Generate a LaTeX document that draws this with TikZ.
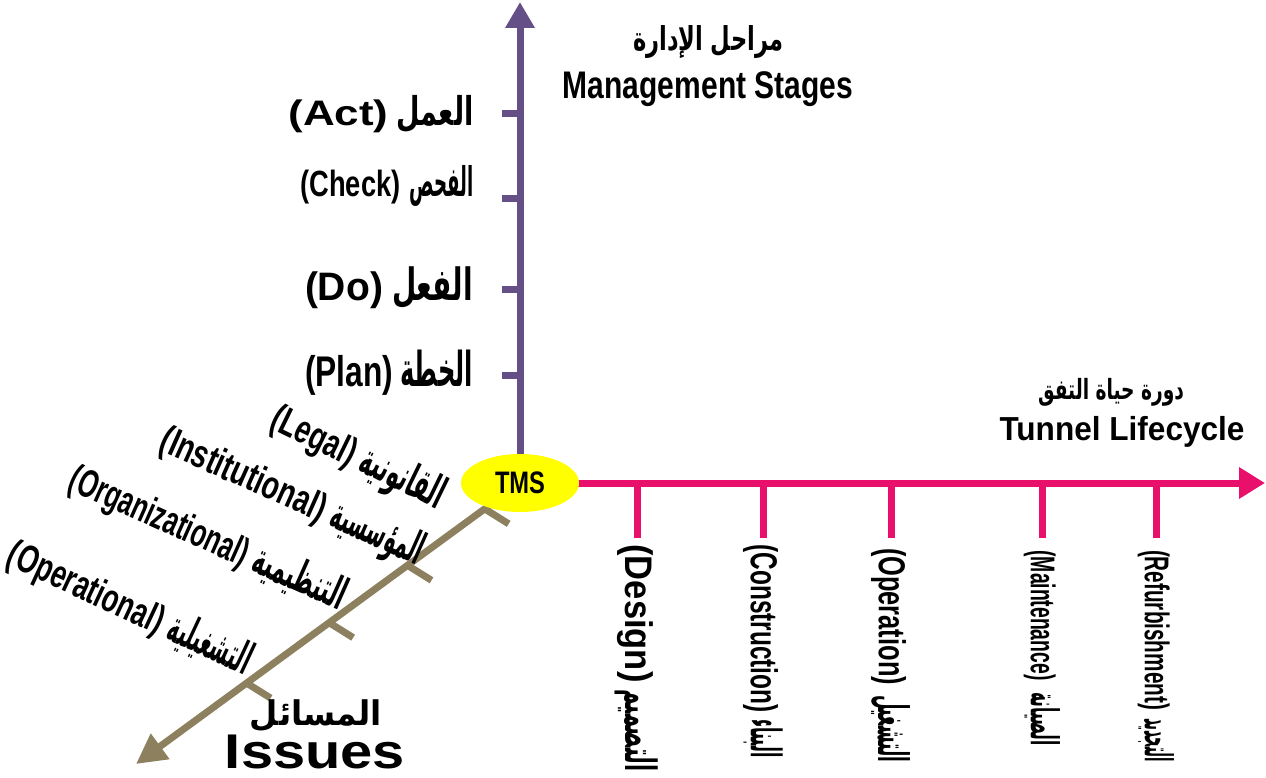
\documentclass[tikz,border=0pt]{standalone}
\usepackage{graphicx}
\usepackage{fontspec}
\setmainfont{Liberation Sans}
\newfontfamily\arfont[Script=Arabic]{DejaVu Sans}
\TeXXeTstate=1
\usetikzlibrary{arrows.meta,shapes.geometric,calc}

\definecolor{mgmt}{RGB}{100,80,135}
\definecolor{life}{RGB}{232,16,106}
\definecolor{issue}{RGB}{140,128,95}
\definecolor{hub}{RGB}{255,255,0}

% Latin and Arabic parts on one baseline, each squeezed to its own width.
% #1 Latin width, #2 Arabic width, #3 gap, #4 Latin height, #5 Latin, #6 Arabic word
\newsavebox\latbox
\newsavebox\arbox
\newcommand\bil[6]{%
  \sbox\latbox{\bfseries #5}%
  \sbox\arbox{\arfont\bfseries\beginR #6\endR}%
  \pgfmathsetmacro\vsc{#4/(\the\ht\latbox+\the\dp\latbox)}%
  \pgfmathsetmacro\hlat{#1/\the\wd\latbox}%
  \pgfmathsetmacro\har{#2/\the\wd\arbox}%
  \pgfmathsetmacro\var{1.12*\vsc}%
  \scalebox{\hlat}[\vsc]{\usebox\latbox}\hspace{#3pt}\scalebox{\har}[\var]{\usebox\arbox}}
\newcommand\fit[3]{\resizebox*{#1pt}{#2pt}{\bfseries #3}}
\newcommand\arfit[3]{\resizebox*{#1pt}{#2pt}{\arfont\bfseries #3}}

\tikzset{
  axisline/.style={line width=7pt},
  tick/.style={line width=7pt},
  lbl/.style={inner sep=0pt, outer sep=0pt, anchor=center},
}

\begin{document}
\begin{tikzpicture}[x=1pt,y=-1pt]
\useasboundingbox (0,0) rectangle (1266,778);

\coordinate (c) at (520,483);
\coordinate (mtip) at (520,2);
\coordinate (ltip) at (1265,483);
\coordinate (itip) at (136,764);

% axes
\draw[axisline, mgmt, -{Triangle[length=26pt,width=28pt]}] (c) -- (mtip);
\draw[axisline, life, -{Triangle[length=26pt,width=30pt]}] (c) -- (ltip);
\draw[axisline, issue, -{Triangle[length=30pt,width=30pt]}] (c) -- (itip);

% management ticks
\foreach \y in {114,199,289,375}
  \draw[tick, mgmt] (519,\y) -- ++(-17,0);
% lifecycle ticks
\foreach \x in {637,763,891,1042,1156}
  \draw[tick, life] (\x,483) -- ++(0,55);
% issue ticks
\foreach \t in {0.092,0.293,0.497,0.712}
  \draw[tick, issue] ($(c)!\t!(itip)$) -- ++(24,15);

% hub
\node[ellipse, fill=hub, minimum width=118pt, minimum height=58pt, inner sep=0pt] (tms) at (c)
  {\fit{50}{22}{TMS}};

% titles
\node[lbl] (mgar) at (708,42) {\arfit{150}{33}{\beginR مراحل الإدارة\endR}};
\node[lbl] (mgen) at (708,89) {\fit{290}{35}{Management Stages}};
\node[lbl] (lcar) at (1111,392) {\arfit{146}{28}{\beginR دورة حياة التفق\endR}};
\node[lbl] (lcen) at (1122,432) {\fit{245}{31}{Tunnel Lifecycle}};
\node[lbl] (isar) at (316,716) {\arfit{132}{32}{\beginR المسائل\endR}};
\node[lbl] (isen) at (315,752) {\resizebox*{180pt}{34pt}{\bfseries Issues}};

% management stages
\node[lbl] (act) at (381,114) {\bil{100}{77}{8}{33}{(Act)}{العمل}};
\node[lbl] (chk) at (387,186) {\bil{100}{64}{9}{34}{(Check)}{الفحص}};
\node[lbl] (do) at (389,288) {\bil{78}{81}{9}{37}{(Do)}{الفعل}};
\node[lbl] (plan) at (389,373) {\bil{88}{73}{7}{40}{(Plan)}{الخطة}};

% lifecycle phases
\node[lbl, rotate=-90] (des) at (637,658) {\bil{138}{82}{7}{36}{(Design)}{التصميم}};
\node[lbl, rotate=-90] (con) at (763,651) {\bil{168}{38}{7}{35}{(Construction)}{البناء}};
\node[lbl, rotate=-90] (ope) at (891,655) {\bil{137}{67}{10}{35}{(Operation)}{التشغيل}};
\node[lbl, rotate=-90] (mai) at (1042,648) {\bil{130}{53}{12}{32}{(Maintenance)}{الصيانة}};
\node[lbl, rotate=-90] (ref) at (1156,656) {\bil{160}{44}{8}{32}{(Refurbishment)}{التجديد}};

% issues
\node[lbl, rotate=-26] (leg) at (358,458) {\bil{90}{90}{8}{37}{(Legal)}{القانونية}};
\node[lbl, rotate=-24] (ins) at (292,497) {\bil{178}{98}{8}{37}{(Institutional)}{المؤسسية}};
\node[lbl, rotate=-24] (org) at (208,538) {\bil{193}{98}{8}{37}{(Organizational)}{التنظيمية}};
\node[lbl, rotate=-25] (opr) at (130,608) {\bil{168}{88}{8}{37}{(Operational)}{التشغيلية}};
\end{tikzpicture}
\end{document}
